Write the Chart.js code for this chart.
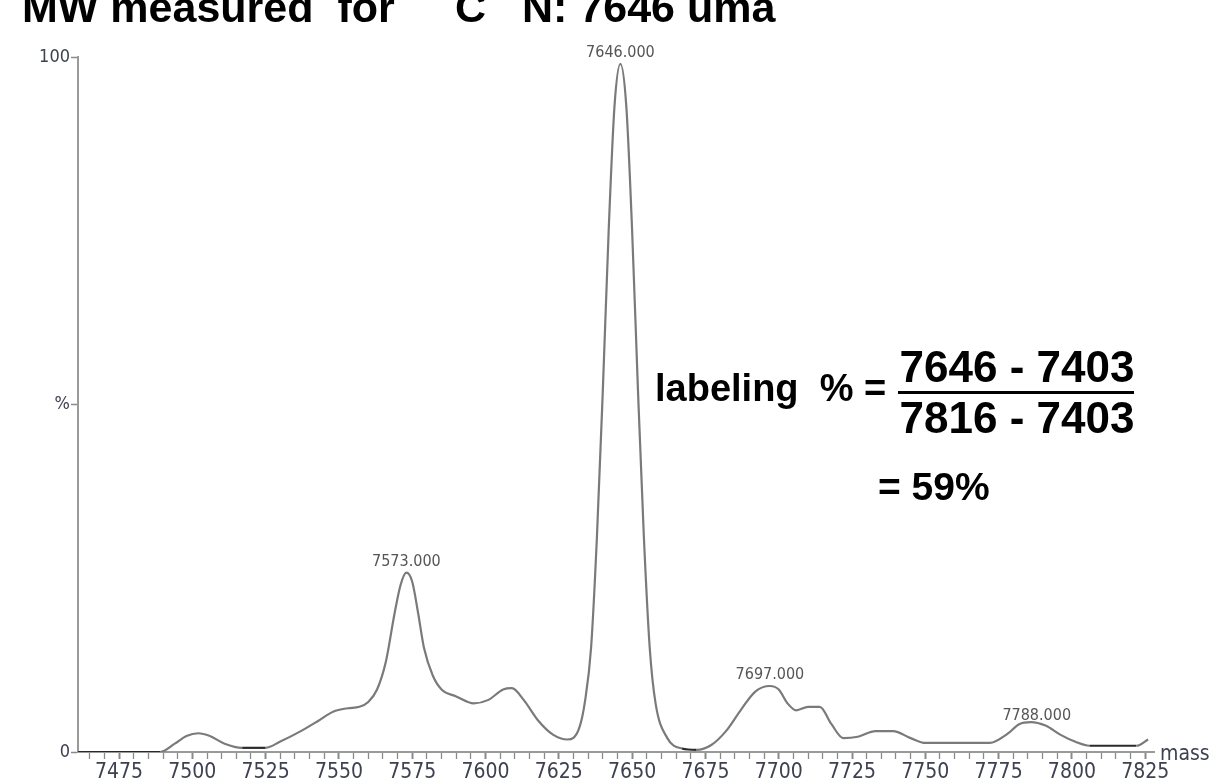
<!DOCTYPE html>
<html>
<head>
<meta charset="utf-8">
<title>MW measured</title>
<style>
body { margin: 0; background: #fff; }
</style>
</head>
<body>
<canvas id="myChart" width="1209" height="783"></canvas>

<script src="https://cdn.jsdelivr.net/npm/chart.js@4/dist/chart.umd.min.js"></script>
<script>
// mass (uma) / relative intensity (%)
const massValues = [
  7461, 7489, 7494, 7498, 7502, 7506, 7511, 7517, 7525, 7530,
  7537, 7543, 7548, 7553, 7557, 7560, 7563, 7566, 7569, 7571,
  7573, 7575, 7577, 7579, 7582, 7585, 7590, 7596, 7601, 7606,
  7609, 7613, 7618, 7623, 7628, 7632, 7634, 7636, 7638, 7640,
  7642, 7644, 7646, 7648, 7650, 7652, 7654, 7656, 7658, 7662,
  7667, 7672, 7677, 7682, 7687, 7692, 7697, 7700, 7703, 7706,
  7710, 7714, 7718, 7722, 7727, 7733, 7739, 7745, 7750, 7772,
  7778, 7782, 7786, 7791, 7796, 7801, 7806, 7822, 7826
];
const intensity = [
  0, 0, 1.2, 2.3, 2.7, 2.3, 1.2, 0.6, 0.6, 1.5,
  3, 4.5, 5.8, 6.3, 6.5, 7.2, 9, 13, 20, 24,
  25.8, 24.5, 20, 15, 11, 9, 8, 7, 7.5, 9,
  9.2, 7.5, 4.5, 2.5, 1.8, 3.5, 7.5, 15, 31, 52,
  75, 93, 99, 93, 75, 52, 31, 15, 7, 2,
  0.5, 0.3, 1, 3, 6, 8.7, 9.5, 9, 7, 6,
  6.5, 6.5, 4, 2, 2.2, 3, 3, 2, 1.3, 1.3,
  2.6, 4, 4.3, 3.8, 2.5, 1.5, 0.9, 0.9, 1.8
];

const peakMasses = [7573, 7646, 7697, 7788];
const peakLabels = ['7573.000', '7646.000', '7697.000', '7788.000'];

const xTickLabels = [7475, 7500, 7525, 7550, 7575, 7600, 7625, 7650, 7675, 7700, 7725, 7750, 7775, 7800, 7825];
const yTickValues = [0, 50, 100];
const yTickText = ['0', '%', '100'];

const narrow = "'Liberation Sans Narrow', 'DejaVu Sans Condensed', sans-serif";
const bold = "'Liberation Sans', Arial, sans-serif";

// text drawn over the chart: peak labels, axis name, title and formula
const overlay = {
  id: 'overlay',
  afterDraw(chart) {
    const ctx = chart.ctx;
    const x = chart.scales.x, y = chart.scales.y;
    ctx.save();

    ctx.font = '16px ' + narrow;
    ctx.fillStyle = '#555';
    ctx.textAlign = 'center';
    ctx.textBaseline = 'bottom';
    peakMasses.forEach((m, i) => {
      let top = 0;
      massValues.forEach((v, j) => { if (Math.abs(v - m) <= 4) top = Math.max(top, intensity[j]); });
      const gap = top < 5 ? -2 : 3;
      ctx.fillText(peakLabels[i], x.getPixelForValue(m), y.getPixelForValue(top) - gap);
    });

    ctx.font = '21px ' + narrow;
    ctx.fillStyle = '#3d4150';
    ctx.textAlign = 'left';
    ctx.textBaseline = 'middle';
    ctx.fillText('mass', x.right + 6, y.bottom + 3);

    // title, top cut off as in the original
    ctx.fillStyle = '#000';
    ctx.textBaseline = 'alphabetic';
    const parts = [
      ['MW measured  for', 43, 0, 22],
      ['13', 26, -26, 415],
      ['C', 43, 0, 455],
      ['15', 26, -26, 490],
      ['N: 7646 uma', 43, 0, 522]
    ];
    parts.forEach(p => {
      ctx.font = 'bold ' + p[1] + 'px ' + bold;
      ctx.fillText(p[0], p[3], 22 + p[2]);
    });

    ctx.font = 'bold 38px ' + bold;
    ctx.fillText('labeling  % =', 655, 401);
    ctx.font = 'bold 44px ' + bold;
    ctx.textAlign = 'center';
    ctx.fillText('7646 - 7403', 1017, 382);
    ctx.fillText('7816 - 7403', 1017, 433);
    ctx.fillRect(898, 391, 236, 3);
    ctx.textAlign = 'left';
    ctx.font = 'bold 39px ' + bold;
    ctx.fillText('= 59%', 878, 500);

    ctx.restore();
  }
};

const ctx = document.getElementById('myChart').getContext('2d');
const chart = new Chart(ctx, {
  type: 'line',
  data: {
    datasets: [{
      data: massValues.map((m, i) => ({ x: m, y: intensity[i] })),
      borderColor: '#7a7a7a',
      borderWidth: 2.2,
      pointRadius: 0,
      fill: false,
      cubicInterpolationMode: 'monotone',
      segment: {
        borderColor: c => (c.p0.parsed.y < 1 && c.p1.parsed.y < 1) ? '#2a2a2a' : undefined
      }
    }]
  },
  options: {
    responsive: false,
    animation: false,
    layout: { padding: { top: 57, right: 55, left: 0, bottom: 0 } },
    plugins: {
      legend: { display: false },
      tooltip: { enabled: false },
      title: { display: false }
    },
    scales: {
      x: {
        type: 'linear',
        min: 7461,
        max: 7828,
        afterFit: s => { s.height = 31; },
        afterBuildTicks: s => {
          const t = [];
          for (let v = 7465; v <= 7825; v += 5) t.push({ value: v });
          s.ticks = t;
        },
        ticks: {
          autoSkip: false,
          maxRotation: 0,
          padding: 1,
          color: '#3d4150',
          font: { family: narrow, size: 21 },
          callback: v => xTickLabels.includes(v) ? String(v) : ''
        },
        grid: {
          drawOnChartArea: false,
          tickLength: 7,
          tickColor: '#8a8a8a',
          tickWidth: c => (c.tick && c.tick.value % 25 === 0) ? 2 : 1.3
        },
        border: { color: '#9a9a9a', width: 2 }
      },
      y: {
        min: 0,
        max: 100,
        afterFit: s => { s.width = 78; },
        afterBuildTicks: s => { s.ticks = yTickValues.map(v => ({ value: v })); },
        ticks: {
          padding: 1,
          color: '#3d4150',
          font: { family: narrow, size: 18 },
          callback: v => yTickText[yTickValues.indexOf(v)]
        },
        grid: {
          drawOnChartArea: false,
          tickLength: 7,
          tickColor: '#8a8a8a',
          tickWidth: 1.5
        },
        border: { color: '#9a9a9a', width: 2 }
      }
    }
  },
  plugins: [overlay]
});
</script>
</body>
</html>
